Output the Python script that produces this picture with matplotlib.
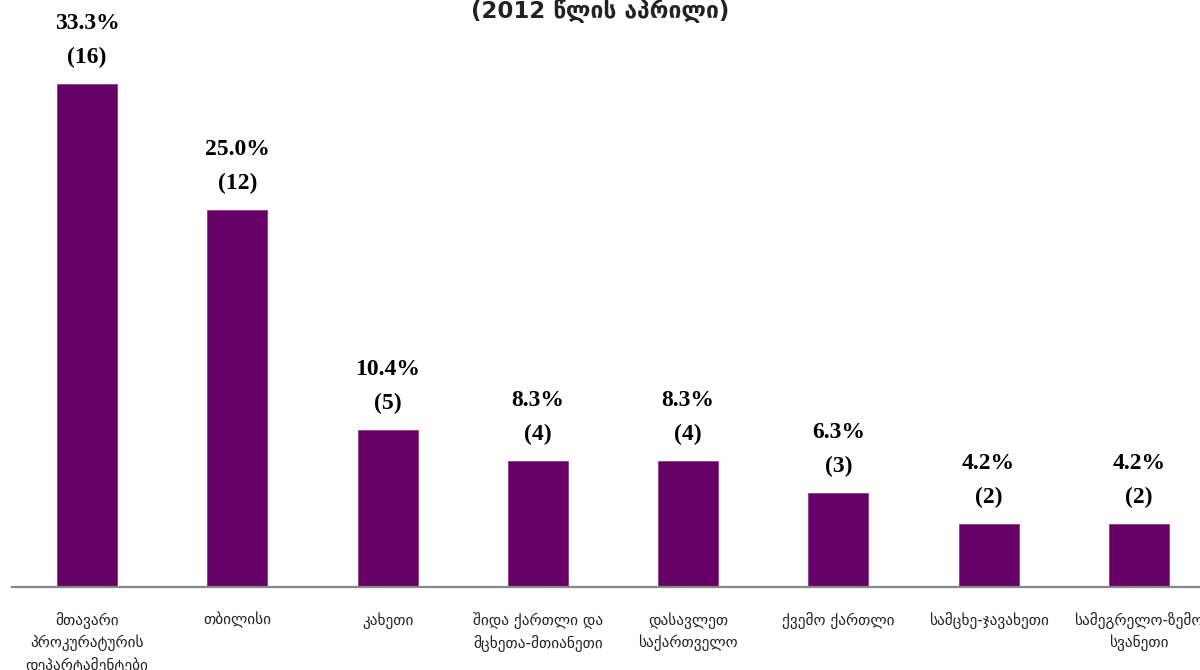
import matplotlib
matplotlib.use("Agg")
import matplotlib.pyplot as plt

categories = [
    "მთავარი\nპროკურატურის\nდეპარტამენტები",
    "თბილისი",
    "კახეთი",
    "შიდა ქართლი და\nმცხეთა-მთიანეთი",
    "დასავლეთ\nსაქართველო",
    "ქვემო ქართლი",
    "სამცხე-ჯავახეთი",
    "სამეგრელო-ზემო\nსვანეთი",
]
counts = [16, 12, 5, 4, 4, 3, 2, 2]
percents = [33.3, 25.0, 10.4, 8.3, 8.3, 6.3, 4.2, 4.2]
title = "(2012 წლის აპრილი)"

bar_color = "#660066"

fig = plt.figure(figsize=(12, 6.7), dpi=100)
# the original is cropped on the right, so the axes run past the figure edge
ax = fig.add_axes([12 / 1200, 1 - 587 / 670, 1202 / 1200, 587 / 670])

x = list(range(len(categories)))
ax.bar(x, counts, width=0.4, color=bar_color, edgecolor="#8a3d8a", linewidth=0.6)
ax.set_xlim(-0.5, len(categories) - 0.5)
ax.set_ylim(0, 587 / (503 / 16))

for xi, c, p in zip(x, counts, percents):
    ax.annotate(f"{p:.1f}%\n({c})", (xi, c), xytext=(0, 11.5), textcoords="offset points",
                ha="center", va="bottom", fontsize=17, fontweight="bold",
                family="Liberation Serif", linespacing=1.8, color="black")

ax.set_xticks(x)
ax.set_xticklabels(categories, fontsize=11, family="DejaVu Sans", linespacing=1.45,
                   color="#222222")
ax.tick_params(axis="x", length=0, pad=18)
ax.set_yticks([])
for side in ("left", "right", "top"):
    ax.spines[side].set_visible(False)
ax.spines["bottom"].set_color("#888888")
ax.spines["bottom"].set_linewidth(1.6)

fig.text(0.5, 1 - 11 / 670, title, ha="center", va="center", fontsize=16.5,
         fontweight="bold", family="DejaVu Sans", color="#222222")

fig.savefig("out.png", dpi=100)
